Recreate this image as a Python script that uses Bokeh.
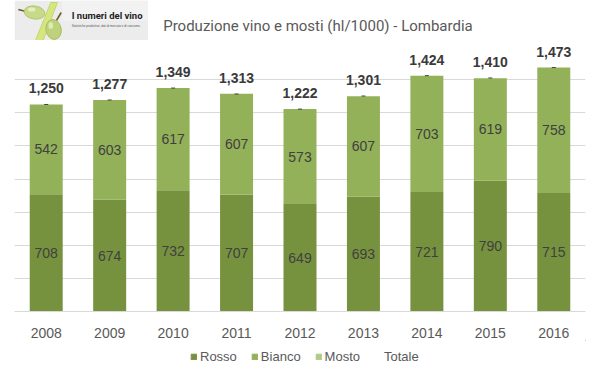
from bokeh.plotting import figure
from bokeh.models import (ColumnDataSource, Legend, LegendItem, SingleIntervalTicker, Range1d)
from bokeh.layouts import column
from bokeh.core.properties import value
from bokeh.embed import file_html
from bokeh.resources import INLINE

years = ["2008", "2009", "2010", "2011", "2012", "2013", "2014", "2015", "2016"]
rosso = [708, 674, 732, 707, 649, 693, 721, 790, 715]
bianco = [542, 603, 617, 607, 573, 607, 703, 619, 758]
mosto = [0, 0, 0, 0, 0, 0, 0, 0, 0]
totale = [1250, 1277, 1349, 1313, 1222, 1301, 1424, 1410, 1473]
series = ["Rosso", "Bianco", "Mosto", "Totale"]

C_ROSSO = "#77923F"
C_BIANCO = "#93B158"
C_MOSTO = "#B2CB84"
FONT = "Liberation Sans"

# ---------- header (logo + title) ----------
h = figure(width=599, height=40, x_range=Range1d(0, 599), y_range=Range1d(40, 0),
           output_backend="svg", toolbar_location=None,
           x_axis_type=None, y_axis_type=None, min_border=0)
h.outline_line_color = None
h.grid.visible = False
h.quad(left=[0], right=[140], top=[0], bottom=[40], fill_color="#ECECEC", line_color=None)
h.quad(left=[50], right=[140], top=[0], bottom=[20], fill_color="#F2F2F2", line_color=None)
h.line([4, 12], [9, 11], line_color="#6B5A2A", line_width=1.5)
h.ellipse(x=[21], y=[12], width=[22], height=[13], angle=[-0.15],
          fill_color="#C6DA8A", line_color="#AFC670")
h.ellipse(x=[18], y=[9], width=[8], height=[4], fill_color="#E4EEC0", line_color=None)
h.patch([22, 30, 45, 38], [40, 40, 2, 2], fill_color="#D5E680", line_color="#C3D66C")
h.line([44, 49], [20, 12], line_color="#6B5A2A", line_width=1.5)
h.ellipse(x=[41], y=[29], width=[16], height=[20], angle=[0.2],
          fill_color="#BDD27A", line_color="#A6BE62")
h.ellipse(x=[38], y=[25], width=[5], height=[7], fill_color="#DDEAB0", line_color=None)
h.text(x=[60], y=[15], text=["I numeri del vino"], text_font=value("Roboto"),
       text_font_style="bold", text_font_size="9.5px", text_color="#222222",
       text_baseline="middle")
h.text(x=[60], y=[25], text=["Statistiche produttive, dati di mercato e di consumo."],
       text_font=value(FONT), text_font_size="3px", text_color="#555555",
       text_baseline="middle")
h.text(x=[156], y=[25], text=["Produzione vino e mosti  (hl/1000) - Lombardia"],
       text_font=value("Roboto"), text_font_size="15px", text_color="#595959",
       text_baseline="middle")

# ---------- main chart ----------
src = ColumnDataSource(dict(
    year=years, rosso=rosso, bianco=bianco, mosto=mosto, totale=totale,
    rosso_y=[r / 2 for r in rosso],
    bianco_y=[r + b / 2 for r, b in zip(rosso, bianco)],
    rosso_t=[str(r) for r in rosso],
    bianco_t=[str(b) for b in bianco],
    totale_t=[f"{t:,}" for t in totale],
))

p = figure(x_range=years, y_range=(0, 1600), width=599, height=300,
           output_backend="svg", toolbar_location=None,
           min_border_left=14, min_border_right=14, min_border_top=6, min_border_bottom=28)
p.outline_line_color = None
p.yaxis.visible = False
p.yaxis.ticker = SingleIntervalTicker(interval=200)
p.ygrid.grid_line_color = "#D9D9D9"
p.xgrid.visible = False
p.xaxis.axis_line_color = "#D9D9D9"
p.xaxis.major_tick_line_color = None
p.xaxis.minor_tick_line_color = None
p.xaxis.major_label_standoff = 10
p.xaxis.major_label_text_font = FONT
p.xaxis.major_label_text_font_size = "14px"
p.xaxis.major_label_text_color = "#595959"
p.x_range.range_padding = 0

p.vbar_stack(["rosso", "bianco", "mosto"], x="year", width=0.52,
             color=[C_ROSSO, C_BIANCO, C_MOSTO], line_color=None, source=src)

p.text(x="year", y="rosso_y", text="rosso_t", source=src, text_font=value(FONT),
       text_font_size="14px", text_color="#404040", text_align="center", text_baseline="middle")
p.text(x="year", y="bianco_y", text="bianco_t", source=src, text_font=value(FONT),
       text_font_size="14px", text_color="#404040", text_align="center", text_baseline="middle")
p.text(x="year", y="totale", text="totale_t", source=src, text_font=value(FONT),
       text_font_size="14px", text_font_style="bold", text_color="#3A3A3A",
       text_align="center", text_baseline="middle", y_offset=-16)
p.scatter(x="year", y="totale", source=src, marker="dash", size=4,
          line_color="#404040", line_width=1)

# ---------- legend row ----------
lg = figure(width=599, height=38, x_range=Range1d(0, 1), y_range=Range1d(0, 1),
            output_backend="svg", toolbar_location=None,
            x_axis_type=None, y_axis_type=None, min_border=0)
lg.outline_line_color = None
lg.grid.visible = False
off = ColumnDataSource(dict(x=[10], y=[10]))
r1 = lg.vbar(x="x", top="y", bottom=9, width=0.5, color=C_ROSSO, source=off)
r2 = lg.vbar(x="x", top="y", bottom=9, width=0.5, color=C_BIANCO, source=off)
r3 = lg.vbar(x="x", top="y", bottom=9, width=0.5, color=C_MOSTO, source=off)
r4 = lg.line(x="x", y="y", line_alpha=0, source=off)
legend = Legend(items=[LegendItem(label=s, renderers=[r]) for s, r in zip(series, [r1, r2, r3, r4])],
                orientation="horizontal", location=(176, 14),
                glyph_width=7, glyph_height=7, label_standoff=3, spacing=14,
                padding=0, margin=0, border_line_color=None, background_fill_alpha=0,
                label_text_font=FONT, label_text_font_size="13px", label_text_color="#595959",
                label_height=14)
lg.add_layout(legend, "center")

layout = column(h, p, lg, spacing=0)
open("out.html", "w").write(file_html(layout, INLINE))
